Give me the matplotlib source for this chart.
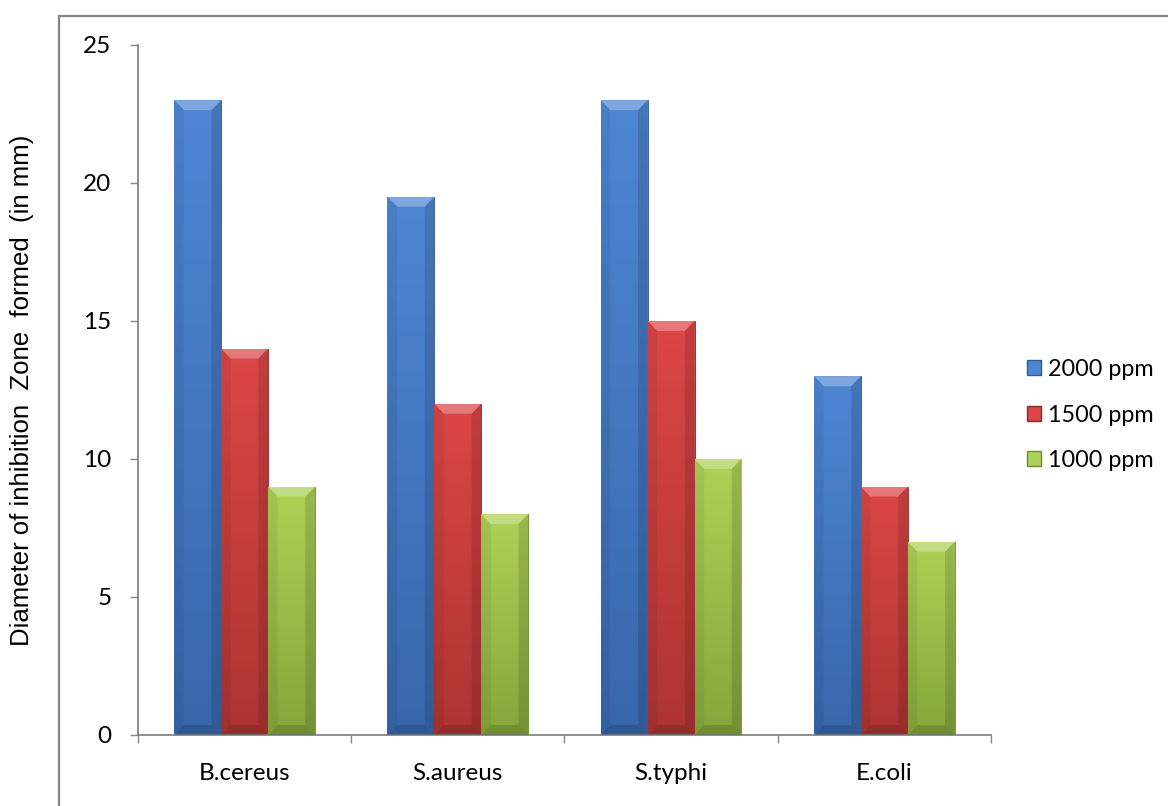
import numpy as np
import matplotlib.pyplot as plt
from matplotlib.colors import LinearSegmentedColormap
from matplotlib.patches import Rectangle, Patch, Polygon

categories = ['B.cereus', 'S.aureus', 'S.typhi', 'E.coli']
series = ['2000 ppm', '1500 ppm', '1000 ppm']
v2000 = [23, 19.5, 23, 13]
v1500 = [14, 12, 15, 9]
v1000 = [9, 8, 10, 7]
values = [v2000, v1500, v1000]

# (top colour, bottom colour, edge)
shades = [('#4f86d4', '#3767ab', '#2f5a96'),
          ('#dc4646', '#ac3433', '#8e2a2a'),
          ('#aed257', '#84a63c', '#6e8c30')]

fig = plt.figure(figsize=(11.68, 8.06), dpi=100)
ax = fig.add_axes([0.1181, 0.0881, 0.7303, 0.8561])

x = np.arange(len(categories))
w = 0.22
dx, dy = 0.045, 0.36  # bevel size in data units
grad = np.linspace(0, 1, 256).reshape(-1, 1)
for i, vals in enumerate(values):
    top, bot, edge = shades[i]
    bars = ax.bar(x + (i - 1) * w, vals, width=w, color=bot, edgecolor=edge, linewidth=0.6, zorder=2)
    cmap = LinearSegmentedColormap.from_list('g%d' % i, [bot, top])
    for b in bars:
        x0, bw, h = b.get_x(), b.get_width(), b.get_height()
        x1 = x0 + bw
        im = ax.imshow(grad, cmap=cmap, origin='lower', aspect='auto', zorder=2.5,
                       extent=(x0, x1, 0, h))
        im.set_clip_path(b)
        # bevel: light top, darker sides and bottom
        ax.add_patch(Polygon([(x0, h), (x1, h), (x1 - dx, h - dy), (x0 + dx, h - dy)],
                             facecolor='white', alpha=0.28, lw=0, zorder=3))
        ax.add_patch(Polygon([(x0, h), (x0 + dx, h - dy), (x0 + dx, dy), (x0, 0)],
                             facecolor='black', alpha=0.06, lw=0, zorder=3))
        ax.add_patch(Polygon([(x1, h), (x1 - dx, h - dy), (x1 - dx, dy), (x1, 0)],
                             facecolor='black', alpha=0.12, lw=0, zorder=3))
        ax.add_patch(Polygon([(x0, 0), (x1, 0), (x1 - dx, dy), (x0 + dx, dy)],
                             facecolor='black', alpha=0.15, lw=0, zorder=3))

ax.set_xlim(-0.5, 3.5)
ax.set_ylim(0, 25)
ax.set_yticks(range(0, 26, 5))
ax.set_xticks(x)
ax.set_xticklabels(categories, fontname='Lato', fontsize=17.5)
ax.set_xticks(np.arange(-0.5, 4, 1), minor=True)
ax.tick_params(axis='x', which='major', length=0, pad=20)
ax.tick_params(axis='x', which='minor', length=6, width=1, color='#868686', direction='out')
ax.tick_params(axis='y', length=6, width=1, color='#868686', pad=13, labelsize=17.5)
for lab in ax.get_yticklabels():
    lab.set_fontname('Lato')
for s in ['top', 'right']:
    ax.spines[s].set_visible(False)
for s in ['left', 'bottom']:
    ax.spines[s].set_color('#868686')
    ax.spines[s].set_linewidth(1.3)

ax.set_ylabel('Diameter of inhibition  Zone  formed  (in mm)', fontname='Liberation Sans',
              fontsize=18.5)
ax.yaxis.set_label_coords(-0.122, 0.5)

handles = [Patch(facecolor=shades[i][0], edgecolor=shades[i][2]) for i in range(3)]
fig.legend(handles, series, loc='center left', bbox_to_anchor=(0.861, 0.485), frameon=False,
           prop={'family': 'Lato', 'size': 16.8}, handlelength=0.62, handleheight=0.62,
           handletextpad=0.3, labelspacing=1.05)

fig.patches.append(Rectangle((0.0505, -0.1), 1.2, 1.08, transform=fig.transFigure,
                             fill=False, edgecolor='#868686', linewidth=1.6))

fig.savefig('out.png', dpi=100)
